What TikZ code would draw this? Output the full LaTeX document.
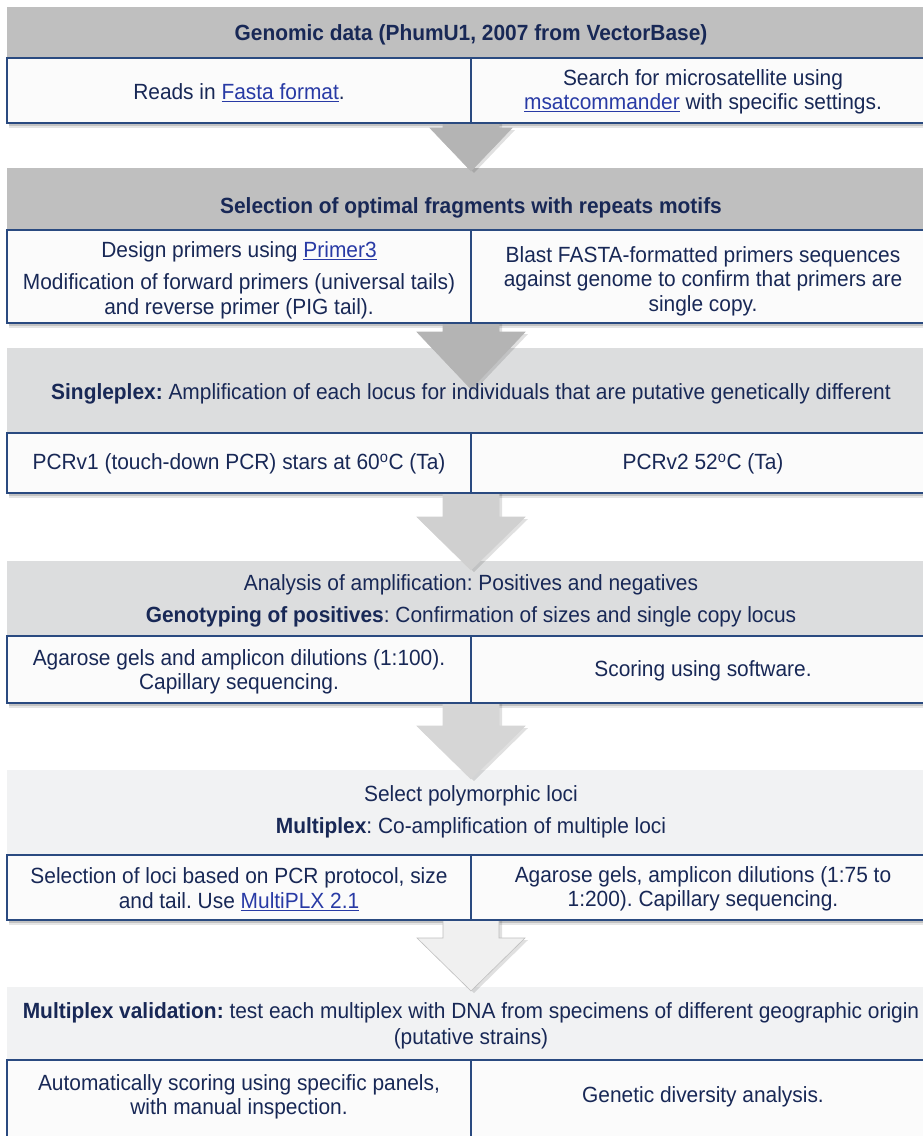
\documentclass[tikz,border=0pt]{standalone}
\usepackage{fontspec}
\setmainfont{Liberation Sans}[FakeStretch=0.95]
\frenchspacing
\definecolor{navy}{RGB}{24,40,86}
\definecolor{linkc}{RGB}{40,58,165}
\definecolor{border}{RGB}{42,74,128}
\definecolor{hdA}{RGB}{191,191,191}
\definecolor{hdB}{RGB}{220,221,222}
\definecolor{hdC}{RGB}{241,242,243}
\definecolor{rowfill}{RGB}{251,251,251}
\definecolor{arA}{RGB}{180,180,180}
\definecolor{arB}{RGB}{208,208,208}
\definecolor{arC}{RGB}{214,214,214}
\definecolor{arD}{RGB}{240,240,240}
\newcommand{\lnk}[1]{\textcolor{linkc}{\underline{#1}}}
\tikzset{
  txt/.style={text=navy, font=\fontsize{22}{24.5}\selectfont, align=center, inner sep=0pt},
  rowline/.style={draw=border, line width=1.6pt},
}
% header top, row top, row bottom, header fill
\newcommand{\stagefill}[4]{%
  \fill[#4] (7,#1) rectangle (935,#2);
  \fill[black,opacity=0.10] (9,#3) rectangle (937,#3+5);
  \fill[black,opacity=0.15] (9,#3) rectangle (937,#3+3);
  \fill[rowfill] (7,#2) rectangle (935,#3);
}
\newcommand{\stageborder}[2]{%
  \draw[rowline] (7,#1) rectangle (935,#2);
  \draw[rowline] (471,#1) -- (471,#2);
}
% shaft top, head top, tip, head half width, fill, outline
\newcommand{\flowarrow}[6]{%
  \fill[black,opacity=0.12] (446,#1) -- (502,#1) -- (502,#2+2) -- (474+#4,#2+2) -- (474,#3+2) -- (474-#4,#2+2) -- (446,#2+2) -- cycle;
  \filldraw[fill=#5,draw=#6,line width=0.6pt] (443,#1) -- (499,#1) -- (499,#2) -- (471+#4,#2) -- (471,#3) -- (471-#4,#2) -- (443,#2) -- cycle;
}
\begin{document}
\begin{tikzpicture}[x=1pt,y=-1pt]
\useasboundingbox (0,0) rectangle (923,1136);
\clip (0,0) rectangle (923,1136);
\fill[white] (0,0) rectangle (923,1136);

% box fills
\stagefill{7}{58}{123}{hdA}
\stagefill{168}{230}{323}{hdA}
\stagefill{348}{433}{493}{hdB}
\stagefill{561}{636}{703}{hdB}
\stagefill{770}{855}{920}{hdC}
\stagefill{987}{1060}{1160}{hdC}

% arrows
\flowarrow{123}{128}{171}{41}{arA}{arA}
\flowarrow{323}{332}{389}{54}{arA}{arA}
\flowarrow{493}{517}{570}{54}{arB}{arB}
\flowarrow{703}{726}{779}{54}{arC}{arC}
\flowarrow{920}{938}{991}{54}{arD}{black!25}

% row borders
\stageborder{58}{123}
\stageborder{230}{323}
\stageborder{433}{493}
\stageborder{636}{703}
\stageborder{855}{920}
\stageborder{1060}{1160}

% texts
\node[txt] (h1) at (471,35) {\bfseries Genomic data (PhumU1, 2007 from VectorBase)};
\node[txt] (l1) at (239,93) {Reads in \lnk{Fasta format}.};
\node[txt] (r1) at (703,92) {Search for microsatellite using\\\lnk{msatcommander} with specific settings.};

\node[txt] (h2) at (471,208) {\bfseries Selection of optimal fragments with repeats motifs};
\node[txt] (l2) at (239,280) {Design primers using \lnk{Primer3}\\[8pt]Modification of forward primers (universal tails)\\and reverse primer (PIG tail).};
\node[txt] (r2) at (703,281) {Blast FASTA-formatted primers sequences\\against genome to confirm that primers are\\single copy.};

\node[txt] (h3) at (471,394) {\textbf{Singleplex:} Amplification of each locus for individuals that are putative genetically different};
\node[txt] (l3) at (239,464) {PCRv1 (touch-down PCR) stars at 60\textsuperscript{o}C (Ta)};
\node[txt] (r3) at (703,464) {PCRv2 52\textsuperscript{o}C (Ta)};

\node[txt] (h4) at (471,601) {Analysis of amplification: Positives and negatives\\[8pt]\textbf{Genotyping of positives}: Confirmation of sizes and single copy locus};
\node[txt] (l4) at (239,672) {Agarose gels and amplicon dilutions (1:100).\\Capillary sequencing.};
\node[txt] (r4) at (703,671) {Scoring using software.};

\node[txt] (h5) at (471,812) {Select polymorphic loci\\[7pt]\textbf{Multiplex}: Co-amplification of multiple loci};
\node[txt] (l5) at (239,889) {Selection of loci based on PCR protocol, size\\and tail. Use \lnk{MultiPLX 2.1}};
\node[txt] (r5) at (703,889) {Agarose gels, amplicon dilutions (1:75 to\\1:200). Capillary sequencing.};

\node[txt] (h6) at (471,1026) {\textbf{Multiplex validation:} test each multiplex with DNA from specimens of different geographic origin\\[1pt](putative strains)};
\node[txt] (l6) at (239,1097) {Automatically scoring using specific panels,\\with manual inspection.};
\node[txt] (r6) at (703,1097) {Genetic diversity analysis.};
\end{tikzpicture}
\end{document}
